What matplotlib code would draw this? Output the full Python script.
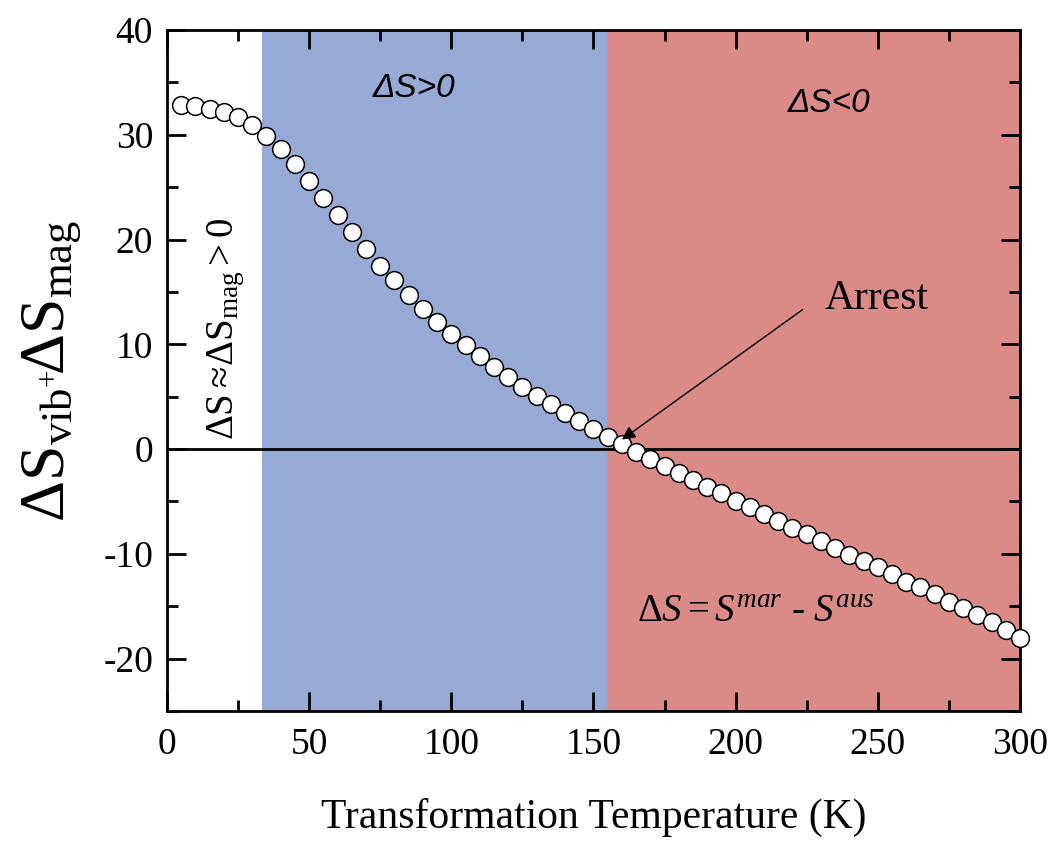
import numpy as np
import matplotlib.pyplot as plt

plt.rcParams['font.family'] = ['Liberation Serif', 'DejaVu Serif']
plt.rcParams['mathtext.fontset'] = 'custom'
plt.rcParams['mathtext.rm'] = 'Liberation Serif'
plt.rcParams['mathtext.it'] = 'Liberation Serif:italic'
plt.rcParams['axes.unicode_minus'] = False

# transformation temperature (K)
temps = list(range(5, 305, 5))
# entropy change
dS = [32.8, 32.7, 32.5, 32.2, 31.7, 30.9, 29.9, 28.6, 27.2, 25.6,
      24.0, 22.3, 20.7, 19.1, 17.5, 16.1, 14.7, 13.4, 12.1, 11.0,
      9.9, 8.9, 7.85, 6.9, 5.95, 5.1, 4.26, 3.4, 2.67, 1.9,
      1.17, 0.45,
      -0.25, -0.95, -1.59, -2.3, -2.96, -3.6, -4.2, -4.96, -5.57, -6.24,
      -6.87, -7.57, -8.14, -8.78, -9.41, -10.1, -10.7, -11.3, -11.96, -12.66,
      -13.2, -13.87, -14.57, -15.2, -15.84, -16.54, -17.27, -18.06]

# shaded regions
blue_span = [33.4, 154.8]
red_span = [154.8, 300]

fig = plt.figure(figsize=(10.54, 8.47), dpi=100)
ax = fig.add_axes([0.1584, 0.1606, 0.8093, 0.804])

ax.axvspan(blue_span[0], blue_span[1], color='#97aad5', lw=0, zorder=0)
ax.axvspan(red_span[0], red_span[1], color='#db8b87', lw=0, zorder=0)
ax.axhline(0, color='black', lw=2, zorder=1)

ax.plot(temps, dS, 'o', ms=12.8, mfc='white', mec='black', mew=1.1, zorder=3, clip_on=False)

ax.set_xlim(0, 300)
ax.set_ylim(-25, 40)
ax.set_xticks([0, 50, 100, 150, 200, 250, 300])
ax.set_xticks(np.arange(25, 300, 50), minor=True)
ax.set_yticks([-20, -10, 0, 10, 20, 30, 40])
ax.set_yticks(np.arange(-25, 40, 10), minor=True)
ax.tick_params(which='both', direction='in', top=True, right=True, width=2, labelsize=27)
ax.tick_params(axis='x', pad=12)
ax.tick_params(axis='y', pad=10)
ax.tick_params(which='major', length=14)
ax.tick_params(which='minor', length=8)
for s in ax.spines.values():
    s.set_linewidth(2)

ax.set_xlabel('Transformation Temperature (K)', fontsize=30, labelpad=26)
ax.set_ylabel(r'$\Delta\mathrm{S}_{\mathrm{vib}^{+}}\!\Delta\mathrm{S}_{\mathrm{mag}}$', fontsize=46)
ax.yaxis.set_label_coords(-0.135, 0.5)
ax.yaxis.label.set_va('center')

ax.text(87, 34.4, 'ΔS>0', fontsize=24, ha='center', va='center',
        family=['Liberation Sans', 'DejaVu Sans'], style='italic')
ax.text(233, 33.0, 'ΔS<0', fontsize=24, ha='center', va='center',
        family=['Liberation Sans', 'DejaVu Sans'], style='italic')
ax.text(207, -15.6, r'$\mathit{\Delta S{=}S^{mar}}$ - $\mathit{S^{aus}}$', fontsize=28,
        ha='center', va='center')
ax.text(20.8, 11.5, r'$\Delta\mathrm{S} \approx\!\Delta\mathrm{S}_{\mathrm{mag}} > 0$', fontsize=28,
        rotation=90, ha='center', va='center')

ax.text(249.5, 14.3, 'Arrest', fontsize=30, ha='center', va='center')
ax.annotate('', xy=(160, 0.9), xytext=(223.5, 13.3),
            arrowprops=dict(arrowstyle='-|>', color='black', lw=1, mutation_scale=20,
                            shrinkA=0, shrinkB=0))

fig.savefig('out.png', dpi=100)
